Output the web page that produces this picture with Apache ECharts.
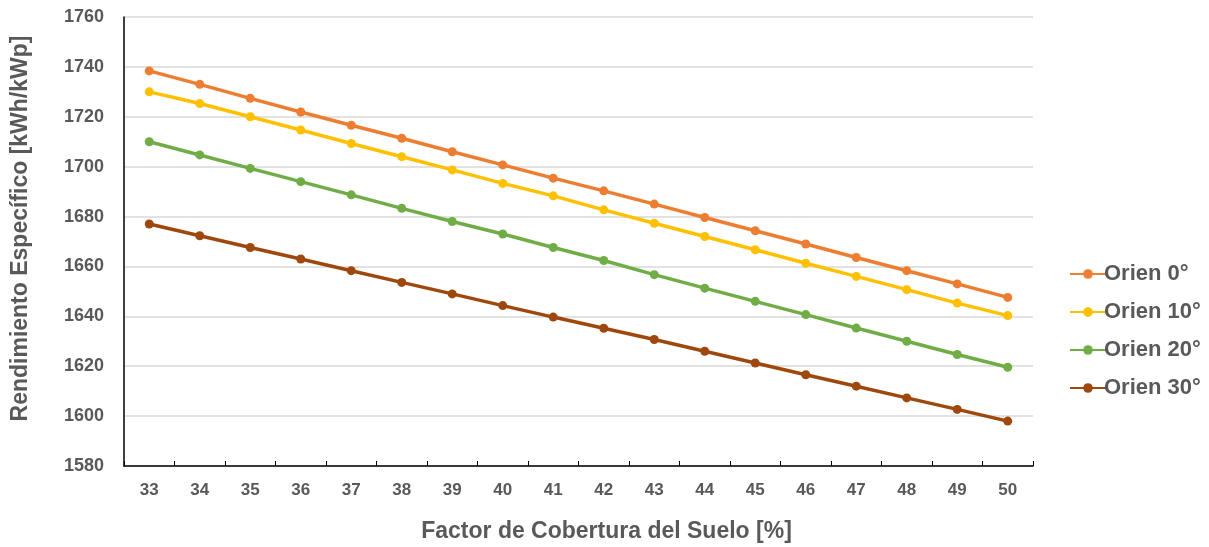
<!DOCTYPE html>
<html>
<head>
<meta charset="utf-8">
<script src="https://cdn.jsdelivr.net/npm/echarts@6/dist/echarts.min.js"></script>
<style>
  html, body { margin: 0; padding: 0; background: #ffffff; }
  #chart { width: 1209px; height: 547px; }
</style>
</head>
<body>
<div id="chart"></div>
<script>
// Ground coverage ratio [%]
const categories = ['33','34','35','36','37','38','39','40','41','42','43','44','45','46','47','48','49','50'];

// Specific yield [kWh/kWp] per azimuth orientation
const orien0  = [1738.4,1733.0,1727.4,1721.9,1716.6,1711.4,1706.0,1700.7,1695.4,1690.3,1685.0,1679.6,1674.3,1669.0,1663.6,1658.3,1653.0,1647.6];
const orien10 = [1730.0,1725.3,1720.0,1714.7,1709.3,1704.0,1698.7,1693.3,1688.3,1682.7,1677.3,1672.0,1666.7,1661.3,1656.0,1650.7,1645.3,1640.3];
const orien20 = [1710.0,1704.7,1699.3,1694.0,1688.7,1683.3,1678.0,1673.0,1667.6,1662.4,1656.7,1651.3,1646.0,1640.7,1635.3,1630.0,1624.7,1619.6];
const orien30 = [1677.0,1672.3,1667.6,1663.0,1658.3,1653.6,1649.0,1644.3,1639.7,1635.2,1630.7,1626.0,1621.3,1616.6,1612.0,1607.3,1602.7,1598.0];

const seriesNames = ['Orien 0°','Orien 10°','Orien 20°','Orien 30°'];
const seriesColors = ['#ED7D31','#FFC000','#70AD47','#9E480E'];
const seriesData = [orien0, orien10, orien20, orien30];

const textColor = '#595959';
const fontFamily = '"Liberation Sans", Arial, sans-serif';

const chart = echarts.init(document.getElementById('chart'), null, { renderer: 'canvas' });

chart.setOption({
  animation: false,
  backgroundColor: '#ffffff',
  textStyle: { fontFamily: fontFamily },
  grid: { left: 124, right: 176, top: 17, bottom: 81, containLabel: false, outerBoundsMode: 'none' },
  legend: {
    orient: 'vertical',
    left: 1064,
    top: 258,
    itemWidth: 36,
    itemHeight: 12,
    itemGap: 16,
    data: seriesNames,
    textStyle: { color: textColor, fontSize: 22, fontWeight: 'bold', fontFamily: fontFamily, padding: [0, 0, 0, -7] }
  },
  xAxis: {
    type: 'category',
    data: categories,
    boundaryGap: true,
    name: 'Factor de Cobertura del Suelo [%]',
    nameLocation: 'middle',
    nameGap: 54,
    nameTextStyle: { color: textColor, fontSize: 23, fontWeight: 'bold', fontFamily: fontFamily, padding: [0, 0, 0, 56] },
    axisLine: { show: true, lineStyle: { color: '#000000', width: 1.5 } },
    axisTick: { show: true, inside: true, length: 5, alignWithLabel: false, lineStyle: { color: '#000000', width: 1 } },
    axisLabel: { color: textColor, fontSize: 17, fontWeight: 'bold', fontFamily: fontFamily, margin: 16 },
    splitLine: { show: false }
  },
  yAxis: {
    type: 'value',
    min: 1580,
    max: 1760,
    interval: 20,
    name: 'Rendimiento Específico [kWh/kWp]',
    nameLocation: 'middle',
    nameGap: 92,
    nameRotate: 90,
    nameTextStyle: { color: textColor, fontSize: 23, fontWeight: 'bold', fontFamily: fontFamily, padding: [0, 0, 0, 26] },
    axisLine: { show: true, lineStyle: { color: '#000000', width: 1.5 } },
    axisTick: { show: false },
    axisLabel: { color: textColor, fontSize: 18, fontWeight: 'bold', fontFamily: fontFamily, margin: 20, formatter: v => String(v) },
    splitLine: { show: true, lineStyle: { color: '#D9D9D9', width: 1.5 } }
  },
  series: seriesData.map((d, i) => ({
    name: seriesNames[i],
    type: 'line',
    data: d,
    symbol: 'circle',
    symbolSize: 9,
    lineStyle: { color: seriesColors[i], width: 3.5 },
    itemStyle: { color: seriesColors[i] },
    z: 10 - i
  }))
});
</script>
</body>
</html>
